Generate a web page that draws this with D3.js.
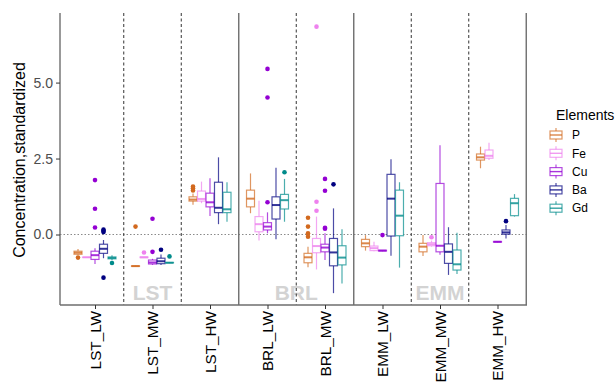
<!DOCTYPE html>
<html>
<head>
<meta charset="utf-8">
<script src="https://cdn.jsdelivr.net/npm/d3@7"></script>
<style>
  html, body { margin: 0; padding: 0; background: #fff; }
  svg { display: block; }
  text { font-family: "Liberation Sans", Arial, sans-serif; }
</style>
</head>
<body>
<svg id="chart" width="616" height="384"></svg>
<script>
// Sampling sites along the x axis, grouped by location
const sites = ["LST_LW", "LST_MW", "LST_HW", "BRL_LW", "BRL_MW", "EMM_LW", "EMM_MW", "EMM_HW"];
const locations = ["LST", "BRL", "EMM"];
const locationCentre = [1, 3.5, 6];          // site index under each location label
const separatorsSolid = [2.5, 4.5, 7.5];      // between locations
const separatorsDashed = [0.5, 1.5, 3.5, 5.5, 6.5];
const elements = ["P", "Fe", "Cu", "Ba", "Gd"];
const colours = ["#D2691E", "#EE82EE", "#9400D3", "#000080", "#008B8B"];
const yTicks = [0, 2.5, 5];

// Box summaries per element, one row per site: [lower whisker, Q1, median, Q3, upper whisker]
const statsP = [
  [-0.68, -0.65, -0.60, -0.55, -0.48],
  [-1.06, -1.05, -1.04, -1.03, -1.02],
  [0.98, 1.10, 1.15, 1.24, 1.35],
  [0.70, 0.91, 1.18, 1.46, 2.01],
  [-1.08, -0.93, -0.75, -0.62, -0.40],
  [-0.53, -0.40, -0.29, -0.16, -0.02],
  [-0.71, -0.57, -0.40, -0.29, -0.02],
  [2.18, 2.45, 2.54, 2.65, 2.89]
];
const statsFe = [
  [-0.75, -0.75, -0.75, -0.75, -0.75],
  [-0.76, -0.76, -0.75, -0.74, -0.74],
  [1.03, 1.10, 1.17, 1.43, 1.74],
  [-0.20, 0.09, 0.34, 0.59, 1.11],
  [-1.15, -0.60, -0.38, -0.13, 0.59],
  [-0.55, -0.53, -0.45, -0.38, -0.24],
  [-0.40, -0.37, -0.32, -0.27, -0.20],
  [2.45, 2.51, 2.59, 2.78, 3.02]
];
const statsCu = [
  [-0.97, -0.82, -0.68, -0.55, -0.45],
  [-1.00, -0.97, -0.92, -0.84, -0.80],
  [0.61, 0.91, 1.06, 1.36, 1.85],
  [0.04, 0.15, 0.26, 0.39, 0.73],
  [-0.84, -0.57, -0.43, -0.32, 0.04],
  [-0.55, -0.54, -0.53, -0.52, -0.51],
  [-0.67, -0.57, -0.37, 1.68, 2.94],
  [-0.26, -0.25, -0.24, -0.23, -0.22]
];
const statsBa = [
  [-0.78, -0.62, -0.47, -0.32, -0.18],
  [-1.00, -0.96, -0.88, -0.78, -0.66],
  [0.34, 0.72, 0.88, 1.72, 2.54],
  [-0.16, 0.51, 0.97, 1.24, 2.20],
  [-1.93, -1.03, -0.59, -0.13, 0.86],
  [-0.70, -0.05, 1.18, 1.98, 2.48],
  [-1.33, -0.95, -0.57, -0.31, 0.24],
  [-0.13, 0.01, 0.07, 0.15, 0.31]
];
const statsGd = [
  [-0.85, -0.80, -0.77, -0.74, -0.68],
  [-0.94, -0.93, -0.93, -0.92, -0.92],
  [0.42, 0.72, 0.83, 1.39, 1.72],
  [0.42, 0.84, 1.13, 1.32, 1.83],
  [-1.61, -1.00, -0.76, -0.37, 0.17],
  [-1.09, -0.04, 0.62, 1.46, 1.72],
  [-1.30, -1.17, -0.98, -0.51, 0.06],
  [0.59, 0.62, 1.03, 1.19, 1.33]
];

// Outlying observations per element, one list per site
const outP  = [[-0.76], [0.26], [1.45, 1.52, 1.58], [], [0.55, 0.26, 0.04, -0.07], [], [], []];
const outFe = [[], [-0.59], [], [], [0.78, 1.08, 6.84], [], [-0.09], []];
const outCu = [[1.79, 0.85, 0.23], [-0.57, 0.52], [], [1.06, 4.51, 5.45], [0.19, 0.22, 1.44, 1.83], [-0.02], [], []];
const outBa = [[0.08, 0.12, 0.16, -1.42], [-0.50], [], [], [1.65], [], [], [0.44]];
const outGd = [[-0.94], [-0.72], [], [2.05], [], [], [], []];

const allStats = [statsP, statsFe, statsCu, statsBa, statsGd];
const allOut = [outP, outFe, outCu, outBa, outGd];

const svg = d3.select("#chart");
const plot = { left: 60, right: 527, top: 13, bottom: 305 };

const y = d3.scaleLinear().domain([-2.32, 7.29]).range([plot.bottom, plot.top]);
const xi = d3.scaleLinear().domain([0, sites.length - 1]).range([95, 497.5]);
const x = s => xi(sites.indexOf(s));
const dodge = d3.scaleBand().domain(elements).range([-21.5, 21.5]).padding(0.06);

// location labels sit behind the separators
svg.append("g").selectAll("text").data(locations).join("text")
  .attr("x", (d, i) => xi(locationCentre[i]))
  .attr("y", 300)
  .attr("text-anchor", "middle")
  .attr("font-size", 21)
  .attr("font-weight", "bold")
  .attr("fill", "#d3d3d3")
  .text(d => d);

// reference line at zero
svg.append("line")
  .attr("x1", plot.left).attr("x2", plot.right)
  .attr("y1", y(0)).attr("y2", y(0))
  .attr("stroke", "#8a8a8a").attr("stroke-width", 1)
  .attr("stroke-dasharray", "1.5,2");

// separators between sites and locations
svg.append("g").selectAll("line").data(separatorsDashed).join("line")
  .attr("x1", d => xi(d)).attr("x2", d => xi(d))
  .attr("y1", plot.top).attr("y2", plot.bottom)
  .attr("stroke", "#333").attr("stroke-width", 1)
  .attr("stroke-dasharray", "3,2.5");
svg.append("g").selectAll("line").data(separatorsSolid).join("line")
  .attr("x1", d => xi(d)).attr("x2", d => xi(d))
  .attr("y1", plot.top).attr("y2", plot.bottom)
  .attr("stroke", "#6e6e6e").attr("stroke-width", 1.4);

// boxplots
const boxes = [];
elements.forEach((el, e) => {
  sites.forEach((s, i) => {
    const st = allStats[e][i];
    boxes.push({ el, colour: colours[e], cx: x(s) + dodge(el) + dodge.bandwidth() / 2,
      lo: st[0], q1: st[1], med: st[2], q3: st[3], hi: st[4], out: allOut[e][i] });
  });
});
const bw = dodge.bandwidth();

const g = svg.append("g").selectAll("g").data(boxes).join("g");
g.append("line").attr("class", "whisker")
  .attr("x1", d => d.cx).attr("x2", d => d.cx)
  .attr("y1", d => y(d.hi)).attr("y2", d => y(d.q3))
  .attr("stroke", d => d.colour).attr("stroke-opacity", 0.7).attr("stroke-width", 1.2);
g.append("line").attr("class", "whisker")
  .attr("x1", d => d.cx).attr("x2", d => d.cx)
  .attr("y1", d => y(d.q1)).attr("y2", d => y(d.lo))
  .attr("stroke", d => d.colour).attr("stroke-opacity", 0.7).attr("stroke-width", 1.2);
g.append("rect")
  .attr("x", d => d.cx - bw / 2).attr("width", bw)
  .attr("y", d => y(d.q3)).attr("height", d => Math.max(0.01, y(d.q1) - y(d.q3)))
  .attr("fill", "#fff")
  .attr("stroke", d => d.colour).attr("stroke-opacity", 0.7).attr("stroke-width", 1.2);
g.append("line")
  .attr("x1", d => d.cx - bw / 2).attr("x2", d => d.cx + bw / 2)
  .attr("y1", d => y(d.med)).attr("y2", d => y(d.med))
  .attr("stroke", d => d.colour).attr("stroke-opacity", 0.8).attr("stroke-width", 2);
g.selectAll("circle").data(d => d.out.map(v => ({ v, d }))).join("circle")
  .attr("cx", o => o.d.cx).attr("cy", o => y(o.v)).attr("r", 2.3)
  .attr("fill", o => o.d.colour);

// axes
const yAxis = d3.axisLeft(y).tickValues(yTicks).tickFormat(d3.format(".1f")).tickSize(4).tickPadding(3);
const ya = svg.append("g").attr("transform", `translate(${plot.left},0)`).call(yAxis);
ya.select(".domain").attr("d", `M0,${plot.top}V${plot.bottom}`).attr("stroke", "#6e6e6e").attr("stroke-width", 1.4);
ya.selectAll(".tick line").attr("stroke", "#333");
ya.selectAll(".tick text").attr("font-size", 14).attr("fill", "#4d4d4d")
  .attr("font-family", "'Liberation Sans', Arial, sans-serif");

const xAxis = d3.axisBottom(xi).tickValues(d3.range(sites.length)).tickFormat(i => sites[i]).tickSize(4);
const xa = svg.append("g").attr("transform", `translate(0,${plot.bottom})`).call(xAxis);
xa.select(".domain").attr("d", `M${plot.left},0H${plot.right}`).attr("stroke", "#6e6e6e").attr("stroke-width", 1.4);
xa.selectAll(".tick line").attr("stroke", "#333");
xa.selectAll(".tick text")
  .attr("font-size", 15.3).attr("fill", "#000")
  .attr("font-family", "'Liberation Sans', Arial, sans-serif")
  .attr("text-anchor", "end")
  .attr("dy", "0.35em")
  .attr("transform", "translate(0,3) rotate(-90)")
  .attr("x", -3).attr("y", 0);

// y-axis title
svg.append("text")
  .attr("transform", "translate(25,160) rotate(-90)")
  .attr("text-anchor", "middle")
  .attr("font-size", 16)
  .attr("fill", "#000")
  .text("Concentration,standardized");

// legend
const legend = svg.append("g");
legend.append("text").attr("x", 556).attr("y", 120).attr("font-size", 14).attr("fill", "#000").text("Elements");
const key = legend.selectAll("g.key").data(elements).join("g").attr("class", "key")
  .attr("transform", (d, i) => `translate(556,${135 + i * 18.3})`);
key.append("line").attr("x1", 0).attr("x2", 0).attr("y1", -7).attr("y2", 7)
  .attr("stroke", (d, i) => colours[i]).attr("stroke-opacity", 0.7).attr("stroke-width", 1.2);
key.append("rect").attr("x", -6).attr("y", -4).attr("width", 12).attr("height", 8)
  .attr("fill", "#fff").attr("stroke", (d, i) => colours[i]).attr("stroke-opacity", 0.7).attr("stroke-width", 1.2);
key.append("line").attr("x1", -6).attr("x2", 6).attr("y1", 0).attr("y2", 0)
  .attr("stroke", (d, i) => colours[i]).attr("stroke-opacity", 0.8).attr("stroke-width", 1.4);
key.append("text").attr("x", 16).attr("y", 0).attr("dy", "0.35em")
  .attr("font-size", 12).attr("fill", "#000").text(d => d);
</script>
</body>
</html>
